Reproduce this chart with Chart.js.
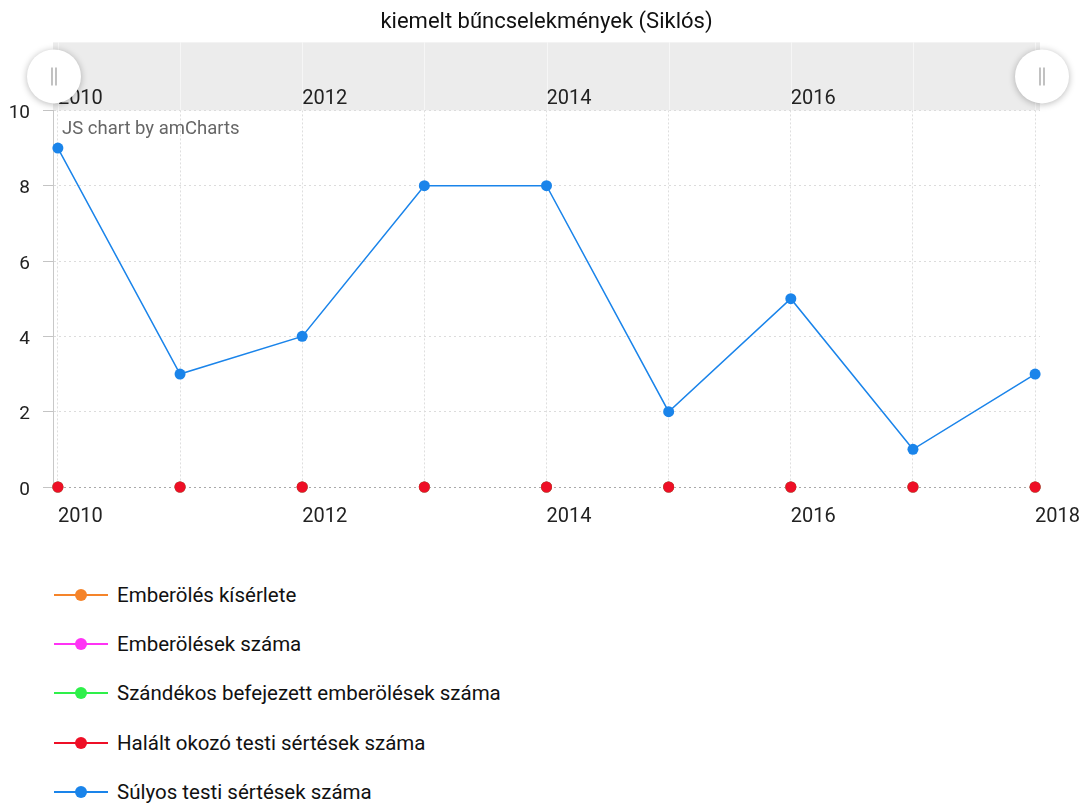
<!DOCTYPE html>
<html>
<head>
<meta charset="utf-8">
<script src="https://cdn.jsdelivr.net/npm/chart.js@4/dist/chart.umd.min.js"></script>
<style>
  html, body { margin: 0; padding: 0; background: #fff; }
  #wrap { position: relative; width: 1084px; height: 803px; font-family: Roboto, sans-serif; }
  #legend { position: absolute; left: 54px; top: 570px; }
  .lg-row { height: 49.3px; display: flex; align-items: center; font-size: 20.5px; color: #111; }
  .lg-mark { position: relative; width: 54px; height: 14px; margin-right: 9px; }
  .lg-mark .ln { position: absolute; left: 0; right: 0; top: 6px; height: 2px; }
  .lg-mark .dot { position: absolute; left: 21px; top: 1px; width: 12px; height: 12px; border-radius: 50%; }
</style>
</head>
<body>
<div id="wrap">
  <canvas id="chart" width="1084" height="545"></canvas>
  <div id="legend"></div>
</div>
<script>
const years = [2010, 2011, 2012, 2013, 2014, 2015, 2016, 2017, 2018];
const labelYears = [2010, 2012, 2014, 2016, 2018];
const scrollLabelYears = [2010, 2012, 2014, 2016];

const seriesNames = [
  'Emberölés kísérlete',
  'Emberölések száma',
  'Szándékos befejezett emberölések száma',
  'Halált okozó testi sértések száma',
  'Súlyos testi sértések száma'
];
const seriesColors = ['#f5842a', '#ff33f5', '#2ef04a', '#ee0f26', '#1a84ea'];

const attempted  = [0, 0, 0, 0, 0, 0, 0, 0, 0];
const homicides  = [0, 0, 0, 0, 0, 0, 0, 0, 0];
const intended   = [0, 0, 0, 0, 0, 0, 0, 0, 0];
const fatalHarm  = [0, 0, 0, 0, 0, 0, 0, 0, 0];
const severeHarm = [9, 3, 4, 8, 8, 2, 5, 1, 3];

const seriesValues = [attempted, homicides, intended, fatalHarm, severeHarm];

const toPoints = vals => vals.map((v, i) => ({ x: years[i], y: v }));

const datasets = seriesValues.map((vals, i) => ({
  label: seriesNames[i],
  data: toPoints(vals),
  borderColor: seriesColors[i],
  backgroundColor: seriesColors[i],
  pointBackgroundColor: seriesColors[i],
  pointBorderWidth: 0,
  pointRadius: 5.5,
  borderWidth: 1.5,
  showLine: i === 4,
  order: 5 - i,
  clip: false,
  tension: 0
}));

// grips, band lines and watermark
const decor = {
  id: 'decor',
  afterDraw(chart) {
    const ctx = chart.ctx;
    const s = chart.scales.x2;
    const area = chart.chartArea;
    ctx.save();
    ctx.strokeStyle = 'rgba(255,255,255,0.55)';
    ctx.lineWidth = 1;
    years.forEach(y => {
      const px = Math.round(s.getPixelForValue(y)) + 0.5;
      ctx.beginPath();
      ctx.moveTo(px, s.top);
      ctx.lineTo(px, s.bottom);
      ctx.stroke();
    });

    ctx.fillStyle = '#666';
    ctx.font = '18.5px Roboto';
    ctx.textBaseline = 'middle';
    ctx.fillText('JS chart by amCharts', area.left + 9, area.top + 19);

    const cy = (s.top + s.bottom) / 2;
    [s.left + 1, s.right + 2].forEach(cx => {
      ctx.save();
      ctx.shadowColor = 'rgba(0,0,0,0.28)';
      ctx.shadowBlur = 7;
      ctx.shadowOffsetY = 1;
      ctx.fillStyle = '#fff';
      ctx.beginPath();
      ctx.arc(cx, cy, 27, 0, Math.PI * 2);
      ctx.fill();
      ctx.restore();
      ctx.strokeStyle = '#999';
      ctx.lineWidth = 1.2;
      ctx.beginPath();
      ctx.moveTo(cx - 2, cy - 9); ctx.lineTo(cx - 2, cy + 9);
      ctx.moveTo(cx + 2, cy - 9); ctx.lineTo(cx + 2, cy + 9);
      ctx.stroke();
    });
    ctx.restore();
  }
};

const htmlLegend = {
  id: 'htmlLegend',
  afterUpdate(chart) {
    const box = document.getElementById('legend');
    box.innerHTML = chart.data.datasets.map(ds => `
      <div class="lg-row">
        <span class="lg-mark">
          <span class="ln" style="background:${ds.borderColor}"></span>
          <span class="dot" style="background:${ds.pointBackgroundColor}"></span>
        </span>
        <span>${ds.label}</span>
      </div>`).join('');
  }
};

const fixPad = s => { s.paddingLeft = 0; s.paddingRight = 44; };

new Chart(document.getElementById('chart'), {
  type: 'line',
  data: { datasets },
  plugins: [decor, htmlLegend],
  options: {
    responsive: false,
    animation: false,
    events: [],
    layout: { padding: { left: 9, right: 0, top: 0, bottom: 18 } },
    plugins: {
      legend: { display: false },
      tooltip: { enabled: false },
      title: {
        display: true,
        text: 'kiemelt bűncselekmények (Siklós)',
        color: '#111',
        font: { family: 'Roboto', size: 22, weight: 'normal' },
        padding: { top: 9, bottom: 7 }
      }
    },
    scales: {
      x: {
        type: 'linear',
        position: 'bottom',
        min: 2009.96,
        max: 2018.04,
        afterBuildTicks: s => { s.ticks = years.map(v => ({ value: v })); },
        afterFit: s => { s.height = 40; fixPad(s); },
        grid: { color: '#dedede', drawTicks: false },
        border: { display: false, dash: [2, 2] },
        ticks: {
          autoSkip: false,
          maxRotation: 0,
          align: 'start',
          padding: 18,
          color: '#222',
          font: { family: 'Roboto', size: 20 },
          callback: v => labelYears.includes(v) ? String(v) : ''
        }
      },
      x2: {
        type: 'linear',
        position: 'top',
        min: 2009.96,
        max: 2018.04,
        backgroundColor: '#ececec',
        afterBuildTicks: s => { s.ticks = years.map(v => ({ value: v })); },
        afterFit: s => { s.height = 68; fixPad(s); },
        grid: { drawOnChartArea: false, drawTicks: false },
        border: { display: false },
        ticks: {
          autoSkip: false,
          maxRotation: 0,
          align: 'start',
          padding: -1,
          color: '#222',
          font: { family: 'Roboto', size: 20 },
          callback: v => scrollLabelYears.includes(v) ? String(v) : ''
        }
      },
      y: {
        min: 0,
        max: 10,
        afterFit: s => { s.width = 44; },
        grid: {
          color: c => c.tick && c.tick.value === 0 ? '#a8a8a8' : '#dcdcdc',
          tickColor: '#c4c4c4',
          tickLength: 10
        },
        border: { display: true, color: '#c8c8c8', dash: [2, 3] },
        ticks: {
          stepSize: 2,
          padding: 13,
          labelOffset: 3,
          color: '#222',
          font: { family: 'Roboto', size: 19 }
        }
      }
    }
  }
});
</script>
</body>
</html>
